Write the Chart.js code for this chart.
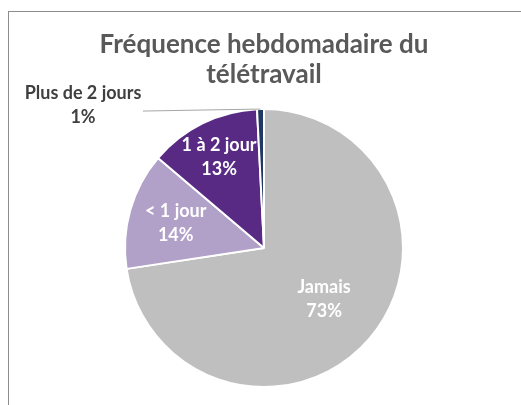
<!DOCTYPE html>
<html>
<head>
<meta charset="utf-8">
<script src="https://cdn.jsdelivr.net/npm/chart.js@4.4.1/dist/chart.umd.min.js"></script>
<style>
  html, body { margin: 0; padding: 0; background: #fff; }
  #wrap { position: relative; width: 521px; height: 405px; overflow: hidden; }
  #frame { position: absolute; left: 8px; top: 11px; width: 600px; height: 500px; border: 1px solid #8c8c8c; }
  canvas { position: absolute; left: 0; top: 0; }
</style>
</head>
<body>
<div id="wrap">
  <div id="frame"></div>
  <canvas id="c" width="521" height="405"></canvas>
</div>
<script>
const titleLines = ['Fréquence hebdomadaire du', 'télétravail'];
const labels = ['Jamais', '< 1 jour', '1 à 2 jour', 'Plus de 2 jours'];
const values = [72.6, 13.6, 13.0, 0.8];
const colors = ['#bfbfbf', '#b1a0c7', '#582a84', '#1f3864'];

const FONT = 'Lato, "Noto Sans", sans-serif';

// inside labels: fraction of radius where the text sits; -1 means outside with leader line
const labelPos = [0.57, 0.66, 0.73, -1];

const sliceLabels = {
  id: 'sliceLabels',
  afterDatasetsDraw(chart) {
    const ctx = chart.ctx;
    const meta = chart.getDatasetMeta(0);
    const total = values.reduce((a, b) => a + b, 0);
    ctx.save();
    ctx.textAlign = 'center';
    ctx.textBaseline = 'middle';
    ctx.font = 'bold 18px ' + FONT;
    meta.data.forEach((arc, i) => {
      const pct = Math.round(values[i] / total * 100) + '%';
      const mid = (arc.startAngle + arc.endAngle) / 2;
      if (labelPos[i] > 0) {
        const d = arc.outerRadius * labelPos[i];
        const x = arc.x + Math.cos(mid) * d;
        const y = arc.y + Math.sin(mid) * d;
        ctx.fillStyle = '#ffffff';
        ctx.fillText(labels[i], x, y - 12);
        ctx.fillText(pct, x, y + 12);
      } else {
        // outside label with leader line
        const ex = arc.x + Math.cos(mid) * arc.outerRadius;
        const ey = arc.y + Math.sin(mid) * arc.outerRadius;
        ctx.strokeStyle = '#a6a6a6';
        ctx.lineWidth = 1;
        ctx.beginPath();
        ctx.moveTo(ex, ey);
        ctx.lineTo(143, ey + 2);
        ctx.stroke();
        ctx.fillStyle = '#404040';
        ctx.fillText(labels[i], 83, ey - 16);
        ctx.fillText(pct, 83, ey + 8);
      }
    });
    ctx.restore();
  }
};

new Chart(document.getElementById('c'), {
  type: 'pie',
  data: {
    labels: labels,
    datasets: [{
      data: values,
      backgroundColor: colors,
      borderColor: '#ffffff',
      borderWidth: 2
    }]
  },
  options: {
    responsive: false,
    animation: false,
    layout: { padding: { top: 0, bottom: 17, left: 17, right: 10 } },
    plugins: {
      legend: { display: false },
      tooltip: { enabled: false },
      title: {
        display: true,
        text: titleLines,
        color: '#595959',
        font: { family: FONT, size: 26, weight: 'bold', lineHeight: 1.154 },
        padding: { top: 30, bottom: 18 }
      }
    }
  },
  plugins: [sliceLabels]
});
</script>
</body>
</html>
